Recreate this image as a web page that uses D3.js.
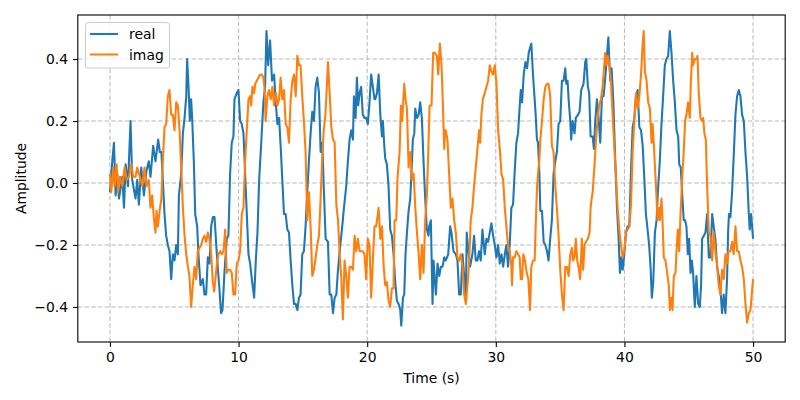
<!DOCTYPE html>
<html><head><meta charset="utf-8">
<script src="https://cdn.jsdelivr.net/npm/d3@7"></script>
<style>body{margin:0;background:#fff}svg{display:block}text{font-family:"DejaVu Sans",sans-serif;fill:#000}</style>
</head><body><svg id="c" width="800" height="400"></svg>
<script>
const seriesNames = ["real", "imag"];
const xTicks = [0, 10, 20, 30, 40, 50];
const yTicks = [-0.4, -0.2, 0.0, 0.2, 0.4];
const xLimits = [-2.5, 52.5];
const yLimits = [-0.513, 0.542];

const realTime = [0,0.18,0.31,0.44,0.57,0.7,0.96,1.09,1.22,1.4,1.6,1.73,1.99,2.12,2.25,2.43,2.64,2.84,3.02,3.15,3.36,3.54,3.75,3.88,
4.0,4.11,4.24,4.37,4.5,4.63,4.76,4.89,5.02,5.15,5.28,5.36,5.54,5.67,5.8,5.93,6.0,6.11,6.21,6.31,6.39,6.52,6.63,6.78,6.88,7.04,7.22,7.35,7.48,7.61,7.74,7.87,8.0,
8.13,8.31,8.49,8.64,8.75,8.9,9.08,9.21,9.34,9.47,9.6,9.68,9.86,9.99,10.12,10.25,10.38,10.51,10.64,10.77,10.9,11.03,11.21,11.34,11.47,11.6,11.75,11.93,12.06,12.17,
12.3,12.45,12.6,12.76,12.89,13.02,13.15,13.27,13.4,13.53,13.66,13.79,13.92,14.05,14.18,14.31,14.44,14.57,14.7,14.82,14.95,15.08,15.21,15.34,15.47,15.6,15.73,15.86,15.99,16.12,16.25,16.38,
16.51,16.62,16.77,16.95,17.08,17.21,17.34,17.47,17.6,17.73,17.91,18.06,18.17,18.37,18.5,18.63,18.76,18.89,18.97,19.1,19.2,19.3,19.41,19.53,19.66,19.79,19.92,20.05,20.18,20.31,20.44,20.57,
20.63,20.76,20.89,21.02,21.15,21.22,21.33,21.4,21.53,21.66,21.79,21.92,22.05,22.18,22.31,22.44,22.57,22.65,22.78,22.88,22.98,23.09,23.22,23.35,23.48,23.55,23.66,23.74,23.87,24.0,24.12,24.25,24.38,24.51,24.64,24.77,
24.82,24.95,25.08,25.16,25.34,25.47,25.6,25.73,25.86,25.99,26.11,26.3,26.45,26.55,26.71,26.89,27.02,27.15,27.28,27.41,27.54,27.67,27.74,27.85,28.0,28.18,28.31,28.44,28.57,28.7,28.83,28.96,
29.14,29.27,29.4,29.53,29.66,29.79,29.92,30.05,30.18,30.31,30.44,30.57,30.7,30.82,30.95,31.08,31.21,31.34,31.47,31.6,31.73,31.86,31.94,32.04,32.17,32.3,32.43,32.56,32.69,32.76,32.89,33.02,33.1,
33.2,33.28,33.38,33.46,33.59,33.72,33.85,33.98,34.1,34.23,34.36,34.49,34.62,34.75,34.88,35.01,35.14,35.27,35.4,35.48,35.58,35.66,35.79,35.86,35.97,36.12,36.22,36.38,36.51,36.64,36.82,36.95,37.03,37.16,37.26,37.37,
37.53,37.63,37.73,37.86,37.99,38.12,38.25,38.38,38.51,38.64,38.75,38.82,38.9,39.0,39.13,39.29,39.42,39.55,39.65,39.76,39.86,39.99,40.12,40.25,40.38,40.51,40.64,40.77,40.9,41.03,41.16,41.29,41.42,41.54,
41.67,41.8,41.92,42.03,42.13,42.24,42.37,42.5,42.6,42.75,42.88,43.01,43.14,43.27,43.4,43.53,43.66,43.79,43.92,44.05,44.18,44.26,44.38,44.51,44.61,44.72,44.82,44.93,45.03,45.14,45.24,45.34,45.47,45.6,45.73,
45.86,45.96,46.04,46.17,46.3,46.43,46.56,46.69,46.82,46.94,47.07,47.2,47.33,47.46,47.59,47.72,47.85,47.98,48.06,48.13,48.24,48.37,48.5,48.63,48.76,48.89,49.02,49.15,49.28,49.41,49.54,49.67,49.74,49.85,50.0];
const realAmp = [-0.03,0.07,0.13,-0.04,0.03,-0.05,0.02,-0.08,0.06,-0.01,0.2,0.01,-0.05,0.01,-0.07,0.05,-0.04,0.04,0.07,0.02,0.12,0.07,0.14,0.1,
0.1,0.01,-0.1,-0.17,-0.2,-0.22,-0.31,-0.23,-0.25,-0.2,-0.23,-0.04,0.03,0.16,0.21,0.28,0.4,0.31,0.2,0.27,0.21,0.07,-0.1,-0.14,-0.23,-0.33,-0.31,-0.36,-0.36,-0.24,-0.26,-0.14,-0.11,
-0.11,-0.23,-0.33,-0.42,-0.41,-0.29,-0.18,-0.17,0.03,0.13,0.15,0.27,0.29,0.3,0.2,0.19,0.16,0.03,-0.1,-0.23,-0.26,-0.31,-0.37,-0.25,-0.16,0.01,0.12,0.26,0.31,0.49,
0.38,0.46,0.33,0.35,0.26,0.19,0.21,0.12,0.01,-0.1,-0.1,-0.15,-0.16,-0.25,-0.33,-0.39,-0.39,-0.41,-0.37,-0.36,-0.23,-0.22,-0.14,-0.03,0.07,0.16,0.23,0.2,0.31,0.34,0.29,0.1,
0.13,-0.01,-0.18,-0.19,-0.36,-0.36,-0.42,-0.37,-0.36,-0.28,-0.2,-0.14,-0.09,-0.01,0.07,0.14,0.17,0.14,0.28,0.21,0.34,0.25,0.29,0.31,0.22,0.21,0.21,0.19,0.26,0.35,0.31,0.27,
0.27,0.29,0.35,0.22,0.15,0.2,0.12,0.08,0.06,-0.01,-0.15,-0.17,-0.23,-0.32,-0.38,-0.39,-0.41,-0.46,-0.37,-0.36,-0.23,-0.16,-0.09,-0.05,0.07,0.14,0.16,0.24,0.21,0.22,0.26,0.21,0.07,-0.05,-0.15,-0.17,
-0.14,-0.12,-0.39,-0.25,-0.36,-0.26,-0.3,-0.27,-0.27,-0.24,-0.25,-0.23,-0.14,-0.16,-0.22,-0.23,-0.25,-0.36,-0.36,-0.23,-0.3,-0.37,-0.16,-0.21,-0.27,-0.23,-0.17,-0.25,-0.25,-0.22,-0.25,-0.15,
-0.23,-0.18,-0.19,-0.16,-0.13,-0.17,-0.2,-0.24,-0.2,-0.26,-0.23,-0.27,-0.23,-0.2,-0.27,-0.2,-0.08,-0.07,0.04,0.13,0.16,0.25,0.3,0.26,0.35,0.39,0.37,0.42,0.44,0.45,0.35,0.27,0.22,
0.14,0.13,0.04,-0.09,-0.09,-0.19,-0.2,-0.22,-0.25,-0.18,-0.12,0.03,0.07,0.1,0.19,0.2,0.33,0.33,0.37,0.32,0.33,0.27,0.2,0.14,0.2,0.16,0.21,0.22,0.23,0.3,0.32,0.39,0.4,0.31,0.29,0.15,
0.15,0.11,0.2,0.27,0.21,0.13,0.28,0.28,0.34,0.41,0.47,0.4,0.33,0.37,0.27,0.07,-0.08,-0.18,-0.29,-0.24,-0.28,-0.23,-0.16,-0.14,-0.14,0.04,0.18,0.21,0.28,0.3,0.18,0.17,0.12,0.02,
-0.1,-0.15,-0.2,-0.27,-0.37,-0.32,-0.16,-0.12,-0.03,0.07,0.19,0.28,0.38,0.4,0.41,0.49,0.42,0.33,0.26,0.17,0.15,0.06,0.05,-0.05,-0.12,-0.12,-0.14,-0.23,-0.18,-0.29,-0.25,-0.29,-0.4,-0.3,-0.39,
-0.4,-0.33,-0.18,-0.17,-0.16,-0.1,-0.24,-0.24,-0.1,-0.14,-0.18,-0.27,-0.3,-0.34,-0.42,-0.36,-0.42,-0.31,-0.16,-0.1,-0.11,-0.03,0.09,0.22,0.28,0.3,0.28,0.22,0.2,0.1,0.02,-0.1,-0.15,-0.1,-0.18];

const imagTime = [0,0.1,0.26,0.36,0.52,0.62,0.78,0.96,1.14,1.3,1.48,1.66,1.81,1.99,2.12,2.33,2.51,2.69,2.84,3.02,3.15,3.28,3.41,3.54,3.62,3.73,3.86,
4.0,4.11,4.24,4.37,4.5,4.63,4.76,4.89,5.02,5.15,5.28,5.41,5.54,5.67,5.8,5.93,6.06,6.18,6.31,6.44,6.57,6.7,6.83,6.96,7.09,7.22,7.35,7.48,7.61,7.74,7.87,8.0,
8.1,8.18,8.31,8.44,8.57,8.7,8.83,8.96,9.08,9.21,9.34,9.47,9.6,9.73,9.86,9.99,10.12,10.25,10.38,10.51,10.64,10.77,10.9,10.98,11.08,11.21,11.29,11.42,11.55,11.68,11.8,11.93,12.03,
12.1,12.24,12.37,12.5,12.63,12.76,12.89,13.02,13.15,13.27,13.4,13.53,13.66,13.79,13.92,14.05,14.18,14.31,14.44,14.57,14.7,14.82,14.95,15.08,15.21,15.34,15.47,15.6,15.73,15.86,15.99,16.12,16.25,16.38,
16.5,16.62,16.75,16.85,16.95,17.08,17.21,17.34,17.47,17.6,17.73,17.86,17.99,18.11,18.24,18.37,18.5,18.63,18.76,18.89,19.02,19.15,19.28,19.41,19.53,19.66,19.79,19.92,20.05,20.18,20.31,20.44,20.57,
20.7,20.76,20.89,21.02,21.15,21.28,21.4,21.53,21.66,21.79,21.92,22.05,22.13,22.26,22.36,22.52,22.62,22.72,22.88,22.98,23.09,23.22,23.35,23.48,23.61,23.74,23.87,24.0,24.12,24.25,24.38,24.51,24.64,
24.75,24.85,25.0,25.13,25.26,25.42,25.52,25.65,25.78,25.88,25.99,26.04,26.11,26.24,26.37,26.5,26.63,26.76,26.89,27.02,27.15,27.28,27.41,27.54,27.67,27.8,27.93,28.05,28.18,28.31,28.44,28.57,28.7,28.78,28.88,28.99,
29.14,29.27,29.4,29.53,29.66,29.79,29.92,30.05,30.18,30.31,30.44,30.57,30.7,30.82,30.95,31.08,31.21,31.26,31.34,31.47,31.6,31.73,31.86,31.94,32.04,32.14,32.27,32.4,32.53,32.66,32.76,32.89,33.02,33.1,
33.2,33.3,33.38,33.46,33.59,33.72,33.85,33.98,34.1,34.23,34.36,34.49,34.62,34.75,34.88,35.01,35.14,35.27,35.4,35.53,35.66,35.79,35.92,36.0,36.12,36.22,36.33,36.43,36.56,36.69,36.79,36.9,37.0,37.16,37.29,37.37,
37.45,37.53,37.66,37.79,37.92,38.04,38.17,38.3,38.43,38.51,38.61,38.72,38.82,38.95,39.08,39.21,39.34,39.47,39.6,39.73,39.86,39.99,40.12,40.25,40.38,40.51,40.64,40.77,40.9,41.03,41.16,41.29,41.42,41.5,
41.59,41.72,41.85,41.98,42.11,42.19,42.29,42.39,42.5,42.57,42.68,42.75,42.88,42.96,43.06,43.19,43.32,43.45,43.53,43.63,43.74,43.84,43.97,44.05,44.15,44.26,44.36,44.51,44.61,44.72,44.82,44.95,45.08,45.16,45.27,45.34,45.47,45.6,45.68,
45.78,45.91,46.04,46.12,46.22,46.33,46.43,46.56,46.69,46.82,46.94,47.07,47.2,47.33,47.46,47.59,47.72,47.85,47.98,48.1,48.24,48.37,48.5,48.63,48.76,48.89,49.02,49.15,49.28,49.41,49.54,49.67,49.8,50.0];
const imagAmp = [0.03,-0.03,0.05,-0.01,0.06,-0.03,0.02,-0.01,0.05,0.01,0.02,0.06,0.02,0.02,0.05,0.02,-0.01,0.05,-0.01,0.01,-0.08,-0.04,-0.11,-0.16,-0.09,-0.14,-0.09,
-0.05,0.07,0.18,0.19,0.28,0.3,0.22,0.22,0.17,0.26,0.25,0.17,0.05,-0.08,-0.17,-0.23,-0.27,-0.3,-0.4,-0.33,-0.27,-0.31,-0.22,-0.21,-0.2,-0.18,-0.17,-0.19,-0.16,-0.18,-0.23,-0.32,
-0.35,-0.32,-0.26,-0.23,-0.22,-0.23,-0.22,-0.15,-0.29,-0.28,-0.28,-0.29,-0.36,-0.36,-0.26,-0.25,-0.22,-0.1,-0.08,0.07,0.17,0.27,0.28,0.25,0.31,0.29,0.32,0.33,0.34,0.35,0.35,0.34,0.3,
0.2,0.28,0.3,0.27,0.31,0.25,0.29,0.25,0.27,0.34,0.27,0.3,0.19,0.18,0.13,0.27,0.33,0.35,0.28,0.41,0.38,0.38,0.28,0.2,0.1,-0.12,-0.03,-0.14,-0.3,-0.28,-0.24,-0.2,-0.17,-0.05,
0.08,0.17,0.22,0.3,0.39,0.29,0.18,0.14,0.13,-0.07,-0.12,-0.23,-0.31,-0.44,-0.25,-0.3,-0.37,-0.27,-0.27,-0.28,-0.17,-0.22,-0.18,-0.22,-0.22,-0.22,-0.23,-0.31,-0.18,-0.2,-0.37,-0.25,-0.14,
-0.14,-0.12,-0.08,-0.18,-0.14,-0.27,-0.33,-0.32,-0.38,-0.4,-0.34,-0.34,-0.12,-0.12,0.02,0.1,0.25,0.2,0.32,0.27,0.24,0.05,0.1,0.01,0.03,-0.08,-0.16,-0.23,-0.31,-0.2,-0.29,-0.12,-0.04,
0.1,0.25,0.25,0.42,0.42,0.41,0.35,0.45,0.38,0.26,0.11,0.17,0.17,0.14,0.03,-0.08,-0.05,-0.12,-0.16,-0.24,-0.25,-0.23,-0.27,-0.36,-0.39,-0.33,-0.25,-0.12,-0.08,-0.01,0.05,0.11,0.17,0.13,0.22,0.27,
0.29,0.31,0.33,0.38,0.36,0.35,0.38,0.32,0.17,0.11,0.03,0.01,-0.08,-0.14,-0.2,-0.22,-0.27,-0.33,-0.24,-0.24,-0.22,-0.23,-0.24,-0.31,-0.31,-0.23,-0.25,-0.29,-0.31,-0.41,-0.27,-0.25,-0.25,-0.14,
-0.02,0.04,0.07,0.14,0.2,0.27,0.31,0.32,0.32,0.28,0.12,0.1,-0.01,-0.08,-0.17,-0.28,-0.36,-0.41,-0.27,-0.27,-0.3,-0.23,-0.21,-0.25,-0.24,-0.18,-0.25,-0.27,-0.31,-0.18,-0.28,-0.2,-0.19,-0.18,-0.16,-0.08,
-0.05,-0.03,0.05,0.14,0.21,0.25,0.27,0.31,0.38,0.42,0.38,0.41,0.38,0.33,0.22,0.12,0.02,-0.08,-0.15,-0.2,-0.24,-0.22,-0.16,-0.15,-0.14,-0.07,0.1,0.2,0.29,0.24,0.28,0.35,0.45,0.49,
0.36,0.33,0.26,0.24,0.13,0.19,0.12,0.04,-0.05,-0.12,-0.08,-0.12,-0.05,-0.12,-0.24,-0.25,-0.29,-0.33,-0.41,-0.37,-0.41,-0.3,-0.29,-0.22,-0.15,-0.22,-0.1,0.03,0.1,0.2,0.22,0.26,0.21,0.32,0.42,0.38,0.4,0.4,0.41,
0.29,0.21,0.2,0.21,0.16,0.14,-0.01,-0.16,-0.17,-0.25,-0.16,-0.22,-0.26,-0.33,-0.36,-0.28,-0.31,-0.23,-0.26,-0.22,-0.22,-0.19,-0.23,-0.14,-0.22,-0.22,-0.25,-0.27,-0.31,-0.39,-0.45,-0.42,-0.41,-0.31];

const colors = ["#1f77b4", "#ff7f0e"];
const svg = d3.select("#c");
const L = 77.8, R = 785.2, T = 15, B = 342;
const x = d3.scaleLinear().domain(xLimits).range([L, R]);
const y = d3.scaleLinear().domain(yLimits).range([B, T]);

// grid
const g = svg.append("g");
g.selectAll(".gx").data(xTicks).enter().append("line")
  .attr("x1", d => x(d)).attr("x2", d => x(d)).attr("y1", T).attr("y2", B)
  .attr("stroke", "#b0b0b0").attr("stroke-width", 0.9).attr("stroke-dasharray", "4.5,2.2");
g.selectAll(".gy").data(yTicks).enter().append("line")
  .attr("y1", d => y(d)).attr("y2", d => y(d)).attr("x1", L).attr("x2", R)
  .attr("stroke", "#b0b0b0").attr("stroke-width", 0.9).attr("stroke-dasharray", "4.5,2.2");

// lines
const series = [
  realTime.map((t, i) => [t, realAmp[i]]),
  imagTime.map((t, i) => [t, imagAmp[i]])
];
const line = d3.line().x(d => x(d[0])).y(d => y(d[1]));
series.forEach((s, i) => {
  svg.append("path").datum(s).attr("d", line).attr("fill", "none")
    .attr("stroke", colors[i]).attr("stroke-width", 2.08).attr("stroke-linejoin", "round").attr("stroke-linecap", "butt");
});

// axes frame
svg.append("rect").attr("x", L).attr("y", T).attr("width", R - L).attr("height", B - T)
  .attr("fill", "none").attr("stroke", "#000").attr("stroke-width", 1.1);

// x axis ticks
const xa = svg.append("g").attr("transform", `translate(0,${B})`)
  .call(d3.axisBottom(x).tickValues(xTicks).tickSize(4.9).tickPadding(4.9).tickFormat(d3.format("d")));
xa.select(".domain").remove();
xa.selectAll("text").style("font-size", "13.9px").attr("font-family", "DejaVu Sans").attr("fill", "#000");
xa.selectAll("line").attr("stroke-width", 1.1);

const fmtY = d => (d < 0 ? "\u2212" : "") + Math.abs(d).toFixed(1);
const ya = svg.append("g").attr("transform", `translate(${L},0)`)
  .call(d3.axisLeft(y).tickValues(yTicks).tickSize(4.9).tickPadding(4.9).tickFormat(fmtY));
ya.select(".domain").remove();
ya.selectAll("text").style("font-size", "13.9px").attr("font-family", "DejaVu Sans").attr("fill", "#000");
ya.selectAll("line").attr("stroke-width", 1.1);

// axis labels
svg.append("text").attr("x", (L + R) / 2).attr("y", 383).attr("text-anchor", "middle")
  .style("font-size", "13.9px").text("Time (s)");
svg.append("text").attr("transform", `translate(26,${(T + B) / 2}) rotate(-90)`).attr("text-anchor", "middle")
  .style("font-size", "13.9px").text("Amplitude");

// legend
const lg = svg.append("g");
lg.append("rect").attr("x", 85.5).attr("y", 22.5).attr("width", 84).attr("height", 45.5).attr("rx", 2.8)
  .attr("fill", "#fff").attr("fill-opacity", 0.8).attr("stroke", "#cccccc").attr("stroke-width", 1);
seriesNames.forEach((n, i) => {
  const yy = 34 + i * 20.5;
  lg.append("line").attr("x1", 90).attr("x2", 118).attr("y1", yy).attr("y2", yy)
    .attr("stroke", colors[i]).attr("stroke-width", 2.08);
  lg.append("text").attr("x", 129).attr("y", yy + 5).style("font-size", "13.9px").text(n);
});
</script></body></html>
